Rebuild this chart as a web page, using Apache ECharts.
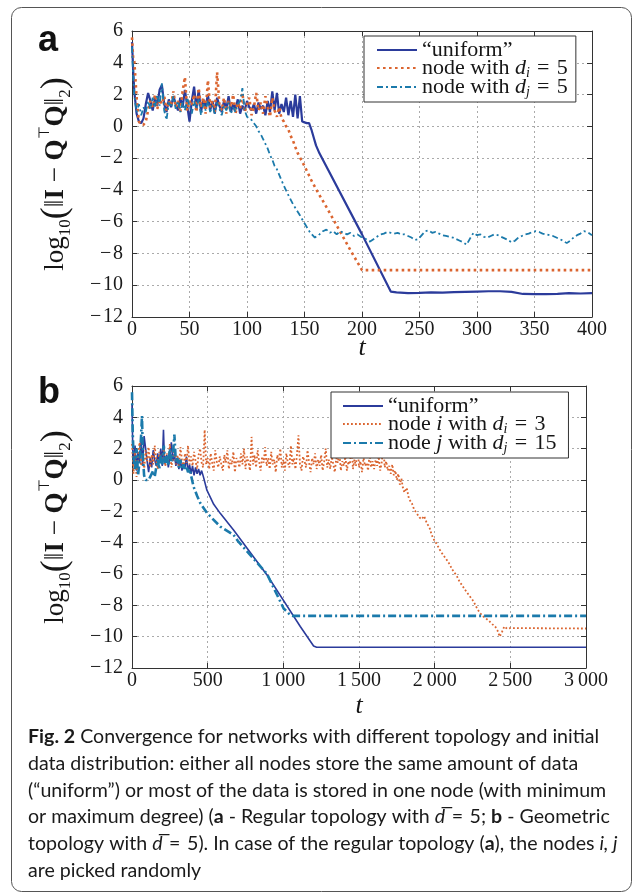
<!DOCTYPE html>
<html>
<head>
<meta charset="utf-8">
<script src="https://cdn.jsdelivr.net/npm/echarts@6/dist/echarts.min.js"></script>
<style>
  html, body { margin: 0; padding: 0; background: #fff; }
  #chart { width: 636px; height: 894px; }
</style>
</head>
<body>
<div id="chart"></div>
<script>
// ---------- Tick labels ----------
const yTickLabels = ['\u2212\u200a12', '\u2212\u200a10', '\u2212\u200a8', '\u2212\u200a6', '\u2212\u200a4', '\u2212\u200a2', '0', '2', '4', '6'];
const xTickLabelsA = ['0', '50', '100', '150', '200', '250', '300', '350', '400'];
const xTickLabelsB = ['0', '500', '1\u2009000', '1\u2009500', '2\u2009000', '2\u2009500', '3\u2009000'];

// ---------- Panel a: regular topology, [t, log10 error] ----------
const uniformA = [
  [0,5.3],[1,3.6],[2,2.2],[3,1.5],[4,0.8],[6,0.3],[8,0.2],[10,0.5],[12,1.4],[14,2.1],[16,1.6],[18,1.0],
  [20,1.8],[22,1.3],[24,2.3],[26,2.6],[28,1.4],[30,0.9],[32,1.7],[34,1.2],[36,1.9],[38,1.4],[40,1.0],
  [42,1.8],[44,1.2],[46,2.3],[48,1.3],[50,0.3],[52,1.6],[54,2.5],[56,1.1],[58,2.3],[60,0.9],[62,1.7],
  [64,1.2],[66,2.0],[68,1.0],[70,1.6],[72,0.8],[74,1.8],[76,1.3],[78,0.9],[80,1.6],[82,1.1],[84,1.9],
  [86,0.9],[88,1.4],[90,1.1],[92,1.7],[94,0.8],[96,1.3],[98,1.0],[100,1.6],[102,1.2],[104,1.0],[106,1.4],
  [108,0.8],[110,1.5],[112,1.1],[114,1.3],[116,0.7],[118,1.6],[120,0.9],[122,2.2],[124,1.0],[126,2.1],
  [128,0.8],[130,1.4],[132,0.9],[134,1.8],[136,0.7],[138,1.6],[140,0.6],[142,2.0],[144,0.5],[146,1.9],
  [148,0.3],[150,0.25],[152,0.2],[154,0.2],[156,-0.2],[158,-0.7],[160,-1.2],[163,-1.7],[200,-6.8],
  [225,-10.4],[230,-10.45],[240,-10.5],[250,-10.48],[260,-10.45],[270,-10.46],[280,-10.44],[290,-10.42],
  [300,-10.4],[310,-10.38],[320,-10.38],[330,-10.42],[340,-10.55],[350,-10.56],[360,-10.56],[370,-10.55],
  [380,-10.5],[390,-10.52],[400,-10.5]
];
const nodeIA = [
  [0,5.6],[1,4.3],[2,4.1],[3,3.0],[4,1.8],[6,0.3],[8,0.1],[10,0.1],[12,0.3],[14,1.0],[16,1.6],[18,1.2],
  [20,2.0],[22,1.1],[24,1.7],[26,1.4],[28,1.9],[30,1.0],[32,1.6],[34,1.3],[36,2.2],[38,1.2],[40,1.6],
  [42,0.9],[44,2.2],[46,3.1],[48,1.0],[50,1.6],[52,1.3],[54,2.0],[56,0.9],[58,2.4],[60,1.2],[62,1.8],
  [64,0.8],[66,2.9],[68,1.2],[70,1.6],[72,0.9],[74,3.4],[76,1.4],[78,1.0],[80,1.8],[82,0.8],[84,1.6],
  [86,1.2],[88,2.0],[90,0.8],[92,1.5],[94,1.1],[96,2.1],[98,0.9],[100,1.4],[102,1.8],[104,0.7],[106,1.2],
  [108,2.1],[110,1.0],[112,1.5],[114,0.8],[116,1.9],[118,1.2],[120,0.6],[122,1.8],[124,1.0],[126,0.6],
  [128,1.2],[130,0.5],[132,0.3],[134,0.0],[136,-0.2],[138,-0.6],[140,-0.9],[142,-1.3],[144,-1.67],
  [150,-2.5],[156,-3.4],[162,-4.2],[170,-5.2],[180,-6.5],[190,-7.8],[200,-9.05],[400,-9.05]
];
const nodeJA = [
  [0,5.0],[1,3.2],[2,2.0],[3,1.4],[4,0.9],[6,1.4],[8,0.7],[10,1.2],[12,0.9],[14,1.6],[16,1.1],[18,1.8],
  [20,1.2],[22,2.0],[24,1.3],[26,2.7],[28,1.0],[30,0.4],[32,1.5],[34,1.2],[36,1.9],[38,1.1],[40,1.6],
  [42,0.9],[44,1.5],[46,1.0],[48,1.8],[50,1.3],[52,0.8],[54,1.6],[56,1.1],[58,1.7],[60,0.7],[62,1.4],
  [64,1.0],[66,1.6],[68,0.9],[70,1.3],[72,0.8],[74,1.5],[76,1.1],[78,0.7],[80,1.3],[82,1.0],[84,1.5],
  [86,0.8],[88,1.2],[90,0.9],[92,1.4],[94,1.6],[96,2.4],[98,1.0],[100,0.6],[102,0.5],[104,0.4],[106,0.2],
  [108,0.0],[110,-0.3],[112,-0.5],[114,-0.8],[116,-1.1],[118,-1.4],[120,-1.8],[122,-2.1],[124,-2.5],
  [126,-2.7],[130,-3.4],[135,-4.2],[140,-4.9],[146,-5.6],[150,-6.1],[155,-6.7],[159,-7.0],[163,-6.8],
  [166,-6.6],[169,-6.5],[172,-6.7],[175,-6.6],[178,-6.8],[181,-6.6],[184,-6.7],[187,-6.8],[190,-6.7],
  [193,-6.9],[196,-6.8],[199,-6.95],[202,-7.0],[205,-7.2],[207,-7.25],[210,-7.1],[213,-6.95],[216,-6.8],
  [219,-6.75],[222,-6.65],[225,-6.7],[228,-6.75],[231,-6.7],[234,-6.8],[237,-6.8],[240,-6.9],[243,-7.0],
  [246,-7.15],[249,-7.1],[252,-6.85],[255,-6.6],[258,-6.55],[261,-6.7],[264,-6.65],[267,-6.75],[270,-6.85],
  [273,-6.9],[276,-6.95],[279,-7.0],[282,-7.1],[285,-7.2],[288,-7.3],[291,-7.45],[294,-7.05],[297,-6.7],
  [300,-6.85],[303,-6.8],[306,-6.95],[309,-7.0],[312,-6.9],[315,-6.8],[318,-6.85],[321,-6.95],[324,-7.05],
  [327,-7.15],[330,-7.3],[333,-7.2],[336,-7.0],[339,-6.9],[342,-6.8],[345,-6.75],[348,-6.65],[351,-6.6],
  [354,-6.65],[357,-6.75],[360,-6.8],[363,-6.85],[366,-6.9],[369,-7.0],[372,-7.1],[375,-7.2],[378,-7.35],
  [381,-7.2],[384,-7.0],[387,-6.85],[390,-6.75],[393,-6.6],[396,-6.65],[400,-6.85]
];

// ---------- Panel b: geometric topology ----------
const uniformB = [
  [0,4.8],[5,2.0],[10,1.0],[20,2.2],[30,0.6],[40,1.8],[50,1.1],[60,2.5],[70,0.9],[80,2.8],[90,2.0],
  [100,1.2],[110,0.5],[120,1.4],[130,0.8],[140,1.9],[150,1.3],[160,0.9],[170,1.7],[180,1.1],[190,2.0],
  [200,0.9],[208,3.2],[215,1.0],[230,1.6],[240,0.8],[250,1.5],[260,2.4],[270,1.2],[280,1.7],[290,0.9],
  [300,1.4],[310,0.7],[320,1.3],[330,0.6],[340,1.1],[350,0.8],[360,1.5],[370,0.5],[380,1.0],[390,0.4],
  [400,0.9],[410,0.3],[420,0.8],[430,0.4],[440,0.7],[450,0.3],[460,0.6],[472,0.2],[495,-0.65],
  [540,-1.55],[583,-2.13],[671,-3.19],[892,-6.06],[1112,-9.35],[1200,-10.6],[1220,-10.68],[3000,-10.68]
];
const nodeJB = [
  [0,5.6],[5,3.0],[10,1.5],[20,0.6],[30,2.0],[40,0.3],[50,1.2],[60,2.8],[66,4.1],[72,1.5],[80,0.3],
  [90,0.0],[100,0.1],[110,0.0],[120,0.2],[130,0.1],[140,0.6],[150,0.2],[160,0.8],[170,1.3],[180,0.7],
  [190,1.6],[200,1.0],[210,2.2],[220,1.1],[230,1.6],[240,0.9],[250,2.0],[260,1.2],[270,1.5],[280,2.9],
  [290,1.1],[300,1.4],[310,0.8],[320,1.3],[330,0.7],[340,1.0],[350,0.6],[360,0.9],[370,0.5],[380,0.7],
  [390,0.3],[407,-0.43],[430,-1.0],[451,-1.47],[495,-2.1],[583,-2.97],[671,-3.5],[700,-3.9],[892,-6.0],
  [1002,-8.2],[1046,-8.62],[1060,-8.67],[3000,-8.67]
];
// node i, sampled every 10 steps from t = 0 up to t = 1790
const nodeIBStep = 10;
const nodeIBNoisy = [
  2.3, 0.4, 1.8, 0.2, 1.5, 2.4, 0.9, 1.7, 0.6, 1.9,
  1.2, 2.1, 0.8, 1.6, 1.0, 2.2, 1.3, 0.7, 1.8, 1.1,
  1.5, 2.0, 0.9, 1.7, 1.2, 2.3, 0.8, 1.4, 1.9, 1.0,
  1.6, 0.9, 2.1, 1.3, 0.8, 1.7, 1.1, 2.2, 1.0, 1.5,
  0.9, 1.8, 1.2, 0.7, 1.6, 2.0, 1.1, 0.8, 3.2, 1.0,
  1.4, 0.7, 1.7, 1.1, 0.6, 1.9, 1.2, 0.8, 1.5, 1.0,
  0.6, 1.6, 1.1, 1.9, 0.7, 1.3, 1.0, 1.8, 0.5, 1.4,
  1.2, 0.8, 1.7, 1.0, 2.0, 0.7, 1.5, 1.1, 0.6, 2.75,
  1.0, 1.6, 0.8, 1.9, 1.2, 0.6, 1.5, 1.1, 2.1, 0.9,
  1.4, 0.7, 1.8, 1.0, 1.3, 0.5, 1.6, 1.2, 2.0, 0.8,
  1.3, 0.6, 1.7, 1.1, 0.8, 2.2, 1.0, 1.4, 0.7, 1.6,
  2.85, 1.0, 0.6, 1.5, 1.2, 0.8, 1.9, 1.1, 0.5, 1.4,
  1.0, 1.7, 0.7, 1.3, 0.9, 1.6, 0.6, 1.2, 2.0, 0.8,
  1.3, 0.7, 1.5, 1.0, 0.5, 1.4, 1.1, 1.8, 0.6, 1.2,
  0.9, 1.5, 0.6, 1.2, 1.0, 2.3, 0.7, 1.3, 0.9, 2.5,
  0.8, 1.2, 0.5, 1.4, 0.9, 1.1, 0.6, 1.7, 0.8, 1.2,
  0.7, 1.3, 0.9, 1.5, 0.6, 1.1, 2.2, 0.8, 1.2, 0.6,
  0.9, 0.4, 1.0, 0.3, 0.6, 0.0, 0.4, -0.3, 0.1, -0.5
];
const nodeIBDescent = [
  [1800,-0.8],[1815,-0.5],[1830,-1.2],[1850,-1.5],[1865,-1.9],[1880,-2.1],[1900,-2.4],[1915,-2.5],
  [1930,-2.3],[1950,-2.8],[1965,-3.0],[1980,-3.5],[2000,-3.9],[2015,-4.1],[2030,-4.4],[2050,-4.7],
  [2065,-4.9],[2080,-5.1],[2100,-5.4],[2115,-5.7],[2130,-5.9],[2150,-6.2],[2165,-6.5],[2180,-6.7],
  [2200,-7.0],[2215,-7.2],[2230,-7.4],[2250,-7.65],[2265,-7.9],[2280,-8.2],[2300,-8.5],[2320,-8.7],
  [2340,-8.85],[2360,-9.0],[2380,-9.2],[2400,-9.35],[2415,-9.6],[2430,-10.0],[2445,-9.7],[2460,-9.35],
  [2480,-9.5],[2500,-9.45],[3000,-9.48]
];
const nodeIB = nodeIBNoisy.map((v, k) => [k * nodeIBStep, v]).concat(nodeIBDescent);

// ---------- Caption ----------
const captionLines = [
  '{b|Fig. 2} Convergence for networks with different topology and initial',
  'data distribution: either all nodes store the same amount of data',
  '(\u201cuniform\u201d) or most of the data is stored in one node (with minimum',
  'or maximum degree) ({b|a} - Regular topology with {i|d\u0305}\u2004=\u20045; {b|b} - Geometric',
  'topology with {i|d\u0305}\u2004=\u20045). In case of the regular topology ({b|a}), the nodes {i|i, j}',
  'are picked randomly'
];

// ---------- Styles ----------
const SERIF = '"Liberation Serif", "Times New Roman", serif';
const SANS = 'Lato, "Open Sans", sans-serif';
const BLUE = '#2b3b9b';
const ORANGE = '#db6530';
const TEAL = '#1b7aab';
const AXIS = '#333';
const INK = '#161616';

const legendNames = {
  uA: '\u201cuniform\u201d',
  iA: 'node with {it|d}{sub|i}\u2004=\u20045',
  jA: 'node with {it|d}{sub|j}\u2004=\u20045',
  uB: '\u201cuniform\u201d',
  iB: 'node {it|i} with {it|d}{sub|i}\u2004=\u20043',
  jB: 'node {it|j} with {it|d}{sub|j}\u2004=\u200415'
};

const yName = '{m|log}{s|10}{p|(}{m|\u2016}{b|I}{m| \u2212 }{b|Q}{t|\u22a4}{b|Q}{m|\u2016}{s|2}{p|)}';
const yNameRich = {
  m: { fontFamily: SERIF, fontSize: 27, lineHeight: 36, color: INK },
  b: { fontFamily: SERIF, fontSize: 27, fontWeight: 'bold', lineHeight: 36, color: INK },
  s: { fontFamily: SERIF, fontSize: 17, lineHeight: 20, verticalAlign: 'bottom', color: INK },
  t: { fontFamily: SERIF, fontSize: 15, lineHeight: 22, verticalAlign: 'top', color: INK },
  p: { fontFamily: SERIF, fontSize: 36, lineHeight: 36, color: INK }
};

function xAxes(gi, max, interval, labels, nameGap) {
  return [{
    gridIndex: gi, type: 'value', min: 0, max: max, interval: interval, position: 'bottom',
    axisLine: { onZero: false, lineStyle: { color: AXIS, width: 1 } },
    axisTick: { inside: true, length: 5, lineStyle: { color: AXIS } },
    axisLabel: { margin: 3, fontFamily: SERIF, fontSize: 20, color: '#1a1a1a',
      formatter: v => labels[Math.round(v / interval)] },
    splitLine: { show: true, lineStyle: { color: '#aaa', width: 1, type: [2, 3] } },
    name: 't', nameLocation: 'middle', nameGap: nameGap, nameMoveOverlap: false,
    nameTextStyle: { fontFamily: SERIF, fontStyle: 'italic', fontSize: 26, color: INK, verticalAlign: 'top' }
  }, {
    gridIndex: gi, type: 'value', min: 0, max: max, interval: interval, position: 'top',
    axisLine: { onZero: false, lineStyle: { color: AXIS, width: 1 } },
    axisTick: { inside: true, length: 5, lineStyle: { color: AXIS } },
    axisLabel: { show: false }, splitLine: { show: false }
  }];
}
function yAxes(gi) {
  return [{
    gridIndex: gi, type: 'value', min: -12, max: 6, interval: 2, position: 'left',
    axisLine: { onZero: false, lineStyle: { color: AXIS, width: 1 } },
    axisTick: { inside: true, length: 5, lineStyle: { color: AXIS } },
    axisLabel: { margin: 9, fontFamily: SERIF, fontSize: 20, color: '#1a1a1a',
      formatter: v => yTickLabels[Math.round((v + 12) / 2)] },
    splitLine: { show: true, lineStyle: { color: '#aaa', width: 1, type: [2, 3] } },
    name: yName, nameLocation: 'middle', nameRotate: 90, nameGap: 58,
    nameTextStyle: { rich: yNameRich }
  }, {
    gridIndex: gi, type: 'value', min: -12, max: 6, interval: 2, position: 'right',
    axisLine: { onZero: false, lineStyle: { color: AXIS, width: 1 } },
    axisTick: { inside: true, length: 5, lineStyle: { color: AXIS } },
    axisLabel: { show: false }, splitLine: { show: false }
  }];
}

function legendFor(names, left, top, padding) {
  return {
    orient: 'vertical', left: left, top: top, padding: padding, itemGap: -4,
    itemWidth: 40, itemHeight: 14, selectedMode: false,
    backgroundColor: '#fff', borderColor: '#333', borderWidth: 1, borderRadius: 0,
    data: names, itemStyle: { opacity: 0 },
    formatter: n => legendNames[n],
    textStyle: {
      fontFamily: SERIF, fontSize: 22, lineHeight: 16, color: INK,
      rich: {
        it: { fontFamily: SERIF, fontStyle: 'italic', fontSize: 22, lineHeight: 16, color: INK },
        sub: { fontFamily: SERIF, fontStyle: 'italic', fontSize: 14, lineHeight: 6,
          padding: [6, 0, 0, 0], verticalAlign: 'top', color: INK }
      }
    }
  };
}

function line(name, xi, yi, data, color, lineStyle) {
  return {
    type: 'line', name: name, xAxisIndex: xi, yAxisIndex: yi, data: data,
    symbol: 'none', showSymbol: false, silent: true, animation: false,
    itemStyle: { color: color }, lineStyle: Object.assign({ color: color }, lineStyle)
  };
}

const chart = echarts.init(document.getElementById('chart'), null, { renderer: 'canvas' });
const captionTop = 737;
const captionGap = 26.7;
const captionSize = 19.6;
const captionRich = {
  b: { fontFamily: SANS, fontSize: captionSize, fontWeight: 'bold', color: '#1a1a1a' },
  i: { fontFamily: SANS, fontSize: captionSize, fontStyle: 'italic', color: '#1a1a1a' }
};

chart.setOption({
  animation: false,
  grid: [
    { left: 132, top: 31, width: 460, height: 286 },
    { left: 132, top: 386, width: 454, height: 282 }
  ],
  xAxis: xAxes(0, 400, 50, xTickLabelsA, 18).concat(xAxes(1, 3000, 500, xTickLabelsB, 25)),
  yAxis: yAxes(0).concat(yAxes(1)),
  legend: [
    legendFor(['uA', 'iA', 'jA'], 364, 36, [3, 8, 3, 12]),
    legendFor(['uB', 'iB', 'jB'], 331, 392, [3, 12, 3, 11])
  ],
  series: [
    line('uA', 0, 0, uniformA, BLUE, { width: 2.2 }),
    line('iA', 0, 0, nodeIA, ORANGE, { width: 2.6, type: [2.6, 3.4] }),
    line('jA', 0, 0, nodeJA, TEAL, { width: 1.8, type: [6, 3, 2, 3] }),
    line('uB', 2, 2, uniformB, BLUE, { width: 1.6 }),
    line('iB', 2, 2, nodeIB, ORANGE, { width: 1.8, type: [1.8, 2.2] }),
    line('jB', 2, 2, nodeJB, TEAL, { width: 2.6, type: [8, 3, 2, 3] })
  ],
  graphic: [
    { type: 'rect', silent: true, z: 0,
      shape: { x: 11.5, y: 7.5, width: 620, height: 884, r: 10 },
      style: { fill: null, stroke: '#555', lineWidth: 1 } },
    { type: 'text', silent: true, x: 38, y: 41,
      style: { text: 'a', font: 'bold 36px "Liberation Sans", Arial, sans-serif', fill: '#111', verticalAlign: 'middle' } },
    { type: 'text', silent: true, x: 38, y: 393,
      style: { text: 'b', font: 'bold 36px "Liberation Sans", Arial, sans-serif', fill: '#111', verticalAlign: 'middle' } }
  ].concat(captionLines.map((t, k) => ({
    type: 'text', silent: true, x: 28, y: captionTop + k * captionGap,
    style: { text: t, fontFamily: SANS, fontSize: captionSize, fill: '#1a1a1a', verticalAlign: 'middle', rich: captionRich }
  })))
});
</script>
</body>
</html>
